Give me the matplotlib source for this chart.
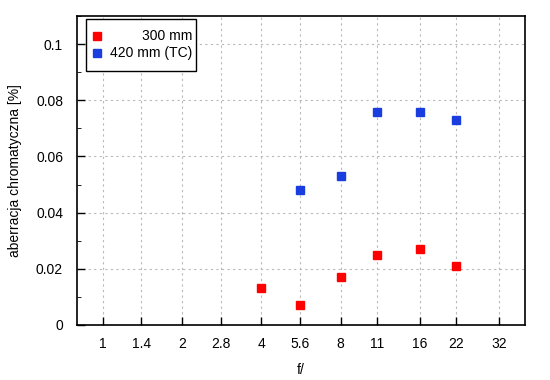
import matplotlib
matplotlib.use("Agg")
import matplotlib.pyplot as plt
from matplotlib.patches import Rectangle
from matplotlib.ticker import FixedLocator, MultipleLocator, NullLocator

plt.rcParams['font.family'] = ['Liberation Sans', 'DejaVu Sans']

f_ticks = [1, 1.4, 2, 2.8, 4, 5.6, 8, 11, 16, 22, 32]
f_300 = [4, 5.6, 8, 11, 16, 22]
ca_300 = [0.013, 0.007, 0.017, 0.025, 0.027, 0.021]
f_420 = [5.6, 8, 11, 16, 22]
ca_420 = [0.048, 0.053, 0.0757, 0.0757, 0.073]

red = '#ff0000'
blue = '#1a3de0'

fig = plt.figure(figsize=(5.5, 3.8), dpi=100)
ax = fig.add_axes([77/550, 1 - 325/380, 448/550, 309/380])

ax.plot(f_300, ca_300, 's', color=red, ms=6)
ax.plot(f_420, ca_420, 's', color=blue, ms=6)

ax.set_xscale('log', base=2)
ax.set_xlim(0.796, 40.2)
ax.set_ylim(0, 0.11)
ax.xaxis.set_major_locator(FixedLocator(f_ticks))
ax.xaxis.set_minor_locator(NullLocator())
ax.set_xticklabels([str(v) for v in f_ticks])
ax.yaxis.set_major_locator(FixedLocator([0, 0.02, 0.04, 0.06, 0.08, 0.1]))
ax.yaxis.set_minor_locator(MultipleLocator(0.01))
ax.set_yticklabels(['0', '0.02', '0.04', '0.06', '0.08', '0.1'])

ax.tick_params(direction='in', labelsize=10, length=6, width=1)
ax.tick_params(axis='y', pad=10)
ax.tick_params(axis='x', pad=9)
ax.tick_params(which='minor', direction='in', length=3)
ax.grid(True, color='#b8b8b8', linestyle=(0, (2, 3)), linewidth=0.8)
for s in ax.spines.values():
    s.set_linewidth(1.2)

ax.set_xlabel('f/', fontsize=10, labelpad=8)
ax.set_ylabel('aberracja chromatyczna [%]', fontsize=10, labelpad=10)

# legend box drawn by hand (gnuplot style: marker left, text right aligned)
box = Rectangle((0.020, 0.822), 0.246, 0.168, transform=ax.transAxes,
                facecolor='white', edgecolor='black', lw=1.0, zorder=5)
ax.add_patch(box)
for yy, col, lab in [(0.935, red, '300 mm'), (0.880, blue, '420 mm (TC)')]:
    ax.plot([0.045], [yy], 's', color=col, ms=6, transform=ax.transAxes,
            zorder=6, clip_on=False)
    ax.text(0.257, yy, lab, transform=ax.transAxes, ha='right', va='center',
            fontsize=10, zorder=6)

fig.savefig('out.png', dpi=100)
